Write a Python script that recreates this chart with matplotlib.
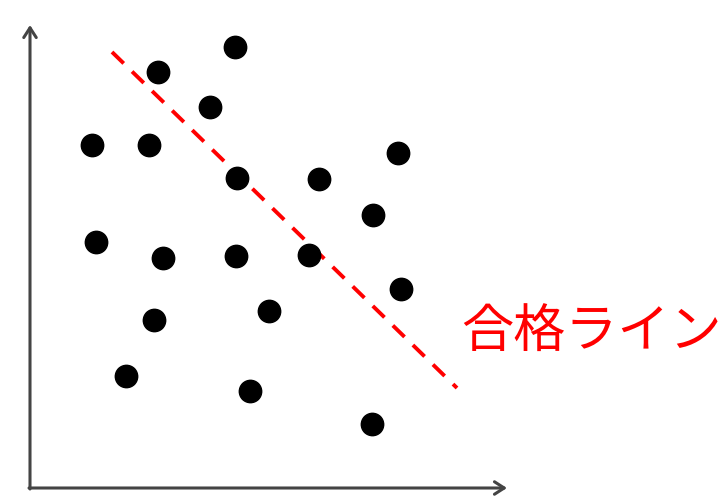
import matplotlib
matplotlib.use("Agg")
import matplotlib.pyplot as plt

# data (arbitrary units, origin at axes corner)
xs = [205, 128, 180, 62, 119, 368, 207, 289, 343, 66, 133, 206, 279, 371, 124, 239, 96, 220, 342]
ys = [441, 416, 381, 343, 343, 335, 310, 309, 273, 246, 230, 232, 233, 199, 168, 177, 112, 97, 64]
line_x = [82, 427]
line_y = [436, 100]
label = "合格ライン"

plt.rcParams['font.family'] = ['Noto Sans CJK JP', 'DejaVu Sans']
fig = plt.figure(figsize=(7.28, 5.03), dpi=100)
ax = fig.add_axes([0, 0, 1, 1])
ax.set_xlim(-30, 698)
ax.set_ylim(-15, 488)
ax.axis('off')

ax.scatter(xs, ys, s=260, color='black', zorder=3)
ax.plot(line_x, line_y, color='#ff0000', lw=2.8, linestyle=(0, (4.2, 3.0)), zorder=2)

ap = dict(arrowstyle='->,head_length=0.7,head_width=0.45', color='#444444', lw=2.2,
          shrinkA=0, shrinkB=0)
ax.annotate('', xy=(0, 463), xytext=(0, -1), arrowprops=ap)
ax.annotate('', xy=(477, 0), xytext=(-1, 0), arrowprops=ap)

ax.text(431, 155, label, color='#ff0000', fontsize=37.5, ha='left', va='center')

fig.savefig('out.png', dpi=100, facecolor='white')
